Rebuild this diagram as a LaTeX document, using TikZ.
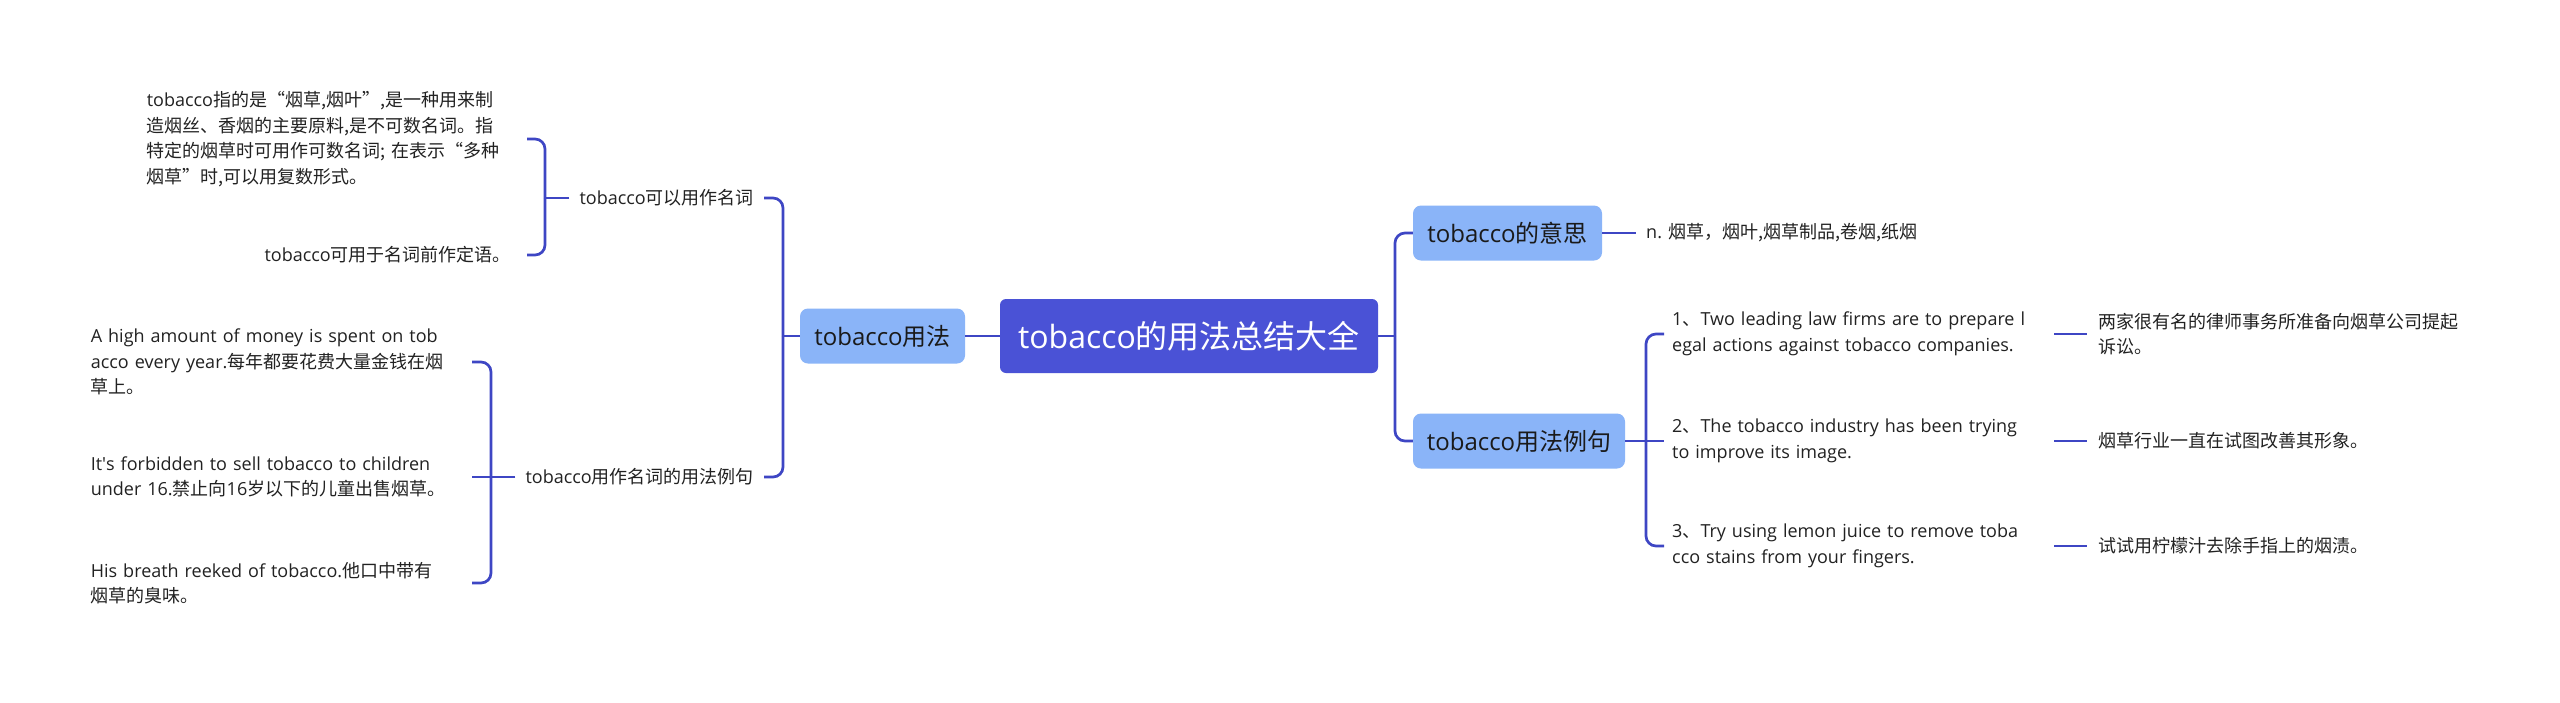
\documentclass[tikz,border=0pt]{standalone}
\usepackage{fontspec}
\setmainfont{Open Sans}
\newfontfamily\zhfont{Noto Sans CJK SC}
\newfontfamily\latinplain{Open Sans}
\newcommand\zhs[1]{{\zhfont #1}}
\definecolor{rootfill}{HTML}{4A52D6}
\definecolor{topicfill}{HTML}{8AB4F8}
\definecolor{linec}{HTML}{3E46C4}
\definecolor{txt}{HTML}{222222}
\definecolor{txtdark}{HTML}{1A1A1A}
\begin{document}
\begin{tikzpicture}[x=1pt,y=1pt,
  conn/.style={draw=linec, line width=2.7pt, rounded corners=10pt},
  rootbox/.style={fill=rootfill, rounded corners=6pt, text=white, font=\fontsize{32}{38}\selectfont, minimum height=74pt, inner sep=0pt},
  topic/.style={fill=topicfill, rounded corners=8pt, text=txtdark, font=\fontsize{24}{30}\selectfont, inner sep=0pt, minimum height=55pt},
  leaf/.style={text=txt, font=\fontsize{18}{25.5}\selectfont, inner xsep=10pt, inner ysep=2pt, align=left},
  para/.style={leaf, inner xsep=0pt}
]
\useasboundingbox[fill=white] (0,0) rectangle (2560,-702);

% central and main topics
\node[rootbox, minimum width=378pt] (root) at (1189,-336) {tobacco\zhs{的用法总结大全}};
\node[topic, minimum width=165pt] (usage) at (882.5,-336) {tobacco\zhs{用法}};
\node[topic, minimum width=189pt] (meaning) at (1507.5,-233) {tobacco\zhs{的意思}};
\node[topic, minimum width=212pt] (example) at (1519,-441) {tobacco\zhs{用法例句}};

% left side
\node[leaf, anchor=east] (n1) at (764,-198) {tobacco\zhs{可以用作名词}};
\node[leaf, anchor=east] (n2) at (764,-477) {tobacco\zhs{用作名词的用法例句}};
\node[para, text width=380pt, anchor=east] (a1) at (527,-139) {tobacco\zhs{指的是“烟草,烟叶”,是一种用来制}\\\zhs{造烟丝、香烟的主要原料,是不可数名词。指}\\\zhs{特定的烟草时可用作可数名词; 在表示“多种}\\\zhs{烟草”时,可以用复数形式。}};
\node[leaf, anchor=east, inner xsep=16pt] (a2) at (527,-255) {tobacco\zhs{可用于名词前作定语。}};
\node[para, text width=381pt, anchor=east] (b1) at (472,-362) {A high amount of money is spent on tob\\acco every year.\zhs{每年都要花费大量金钱在烟}\\\zhs{草上。}};
\node[para, text width=381pt, anchor=east] (b2) at (472,-477) {It{\latinplain '}s forbidden to sell tobacco to children\\under 16.\zhs{禁止向}16\zhs{岁以下的儿童出售烟草。}};
\node[para, text width=381pt, anchor=east] (b3) at (472,-583) {His breath reeked of tobacco.\zhs{他口中带有}\\\zhs{烟草的臭味。}};

% right side
\node[leaf, anchor=west] (m1) at (1636,-233) {n. \zhs{烟草，烟叶,烟草制品,卷烟,纸烟}};
\node[para, text width=374pt, inner xsep=8pt, anchor=west] (e1) at (1664,-334) {1\zhs{、}Two leading law firms are to prepare l\\egal actions against tobacco companies.};
\node[para, text width=374pt, inner xsep=8pt, anchor=west] (e2) at (1664,-441) {2\zhs{、}The tobacco industry has been trying\\to improve its image.};
\node[para, text width=374pt, inner xsep=8pt, anchor=west] (e3) at (1664,-546) {3\zhs{、}Try using lemon juice to remove toba\\cco stains from your fingers.};
\node[leaf, anchor=west, inner xsep=11pt] (t1) at (2087,-334) {\zhs{两家很有名的律师事务所准备向烟草公司提起}\\\zhs{诉讼。}};
\node[leaf, anchor=west, inner xsep=11pt] (t2) at (2087,-441) {\zhs{烟草行业一直在试图改善其形象。}};
\node[leaf, anchor=west, inner xsep=11pt] (t3) at (2087,-546) {\zhs{试试用柠檬汁去除手指上的烟渍。}};

% junctions
\coordinate (jU) at (783,-336);
\coordinate (jA) at (545,-198);
\coordinate (jB) at (491,-477);
\coordinate (jR) at (1395,-336);
\coordinate (jE) at (1646,-441);

% connectors
\draw[conn] (root.west) -- (usage.east);
\draw[conn] (usage.west) -- (jU);
\draw[conn] (jU) |- (n1.east);
\draw[conn] (jU) |- (n2.east);
\draw[conn] (n1.west) -- (jA);
\draw[conn] (jA) |- (a1.east);
\draw[conn] (jA) |- (a2.east);
\draw[conn] (n2.west) -- (jB);
\draw[conn] (jB) |- (b1.east);
\draw[conn] (jB) -- (b2.east);
\draw[conn] (jB) |- (b3.east);
\draw[conn] (root.east) -- (jR);
\draw[conn] (jR) |- (meaning.west);
\draw[conn] (jR) |- (example.west);
\draw[conn] (meaning.east) -- (m1.west);
\draw[conn] (example.east) -- (jE);
\draw[conn] (jE) |- (e1.west);
\draw[conn] (jE) -- (e2.west);
\draw[conn] (jE) |- (e3.west);
\draw[conn] (e1.east) -- (t1.west);
\draw[conn] (e2.east) -- (t2.west);
\draw[conn] (e3.east) -- (t3.west);
\end{tikzpicture}
\end{document}
